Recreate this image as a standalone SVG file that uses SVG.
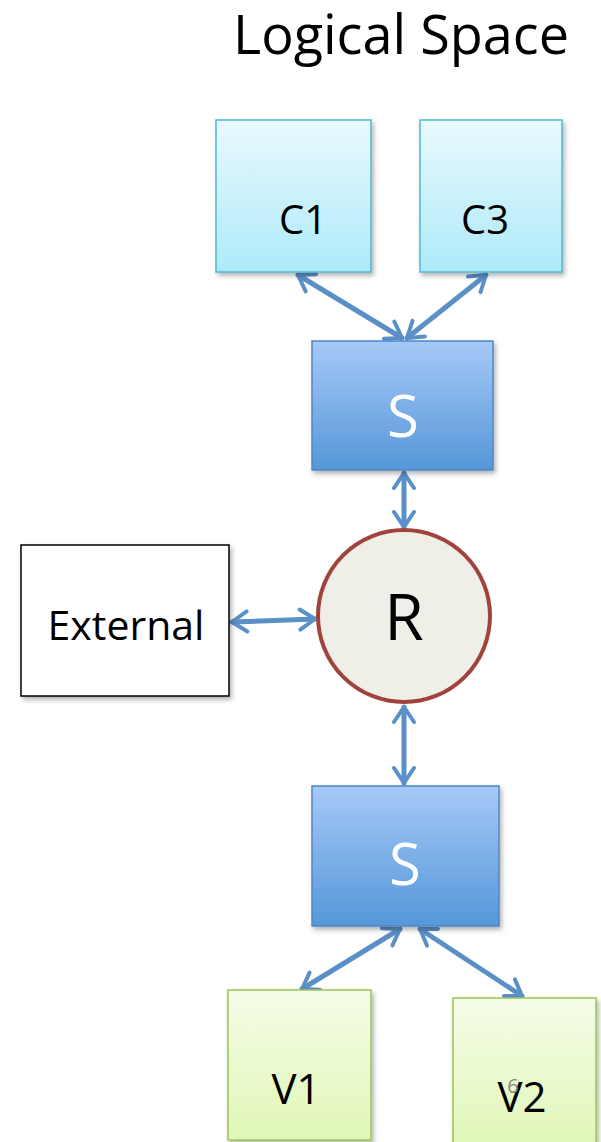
<svg xmlns="http://www.w3.org/2000/svg" width="601" height="1142" viewBox="0 0 601 1142">
<style>
text{font-family:"Open Sans","Liberation Sans",sans-serif;text-anchor:middle;}
.lbl{font-size:40px;fill:#000;}
.conn{stroke:#5b8fc8;stroke-width:5;fill:none;stroke-linecap:round;}
</style>
<defs>
<linearGradient id="gc" x1="0" y1="0" x2="0" y2="1"><stop offset="0" stop-color="#e8f9fd"/><stop offset="1" stop-color="#aeeafa"/></linearGradient>
<linearGradient id="gs" x1="0" y1="0" x2="0" y2="1"><stop offset="0" stop-color="#a6c9f7"/><stop offset="1" stop-color="#5597d8"/></linearGradient>
<linearGradient id="gv" x1="0" y1="0" x2="0" y2="1"><stop offset="0" stop-color="#f5fce8"/><stop offset="1" stop-color="#e0f7b6"/></linearGradient>
<filter id="sh" x="-10%" y="-10%" width="130%" height="130%"><feDropShadow dx="2" dy="3" stdDeviation="2.5" flood-color="#000" flood-opacity="0.3"/></filter>
<marker id="ah" viewBox="0 0 20 20" refX="16" refY="10" markerWidth="5" markerHeight="5" markerUnits="strokeWidth" orient="auto-start-reverse"><path d="M4,2 L16,10 L4,18" fill="none" stroke="#5b8fc8" stroke-width="3.2" stroke-linecap="round" stroke-linejoin="round"/></marker>
</defs>
<text x="401" y="54" style="font-size:54px" fill="#000">Logical Space</text>
<g id="connectors">
<line class="conn" x1="298" y1="275" x2="402" y2="338" marker-start="url(#ah)" marker-end="url(#ah)"/>
<line class="conn" x1="486" y1="275" x2="407" y2="338" marker-start="url(#ah)" marker-end="url(#ah)"/>
<line class="conn" x1="404" y1="473" x2="404" y2="527" marker-start="url(#ah)" marker-end="url(#ah)"/>
<line class="conn" x1="232" y1="622" x2="315" y2="619" marker-start="url(#ah)" marker-end="url(#ah)"/>
<line class="conn" x1="404" y1="707" x2="404" y2="783" marker-start="url(#ah)" marker-end="url(#ah)"/>
<line class="conn" x1="400" y1="929" x2="302" y2="989" marker-start="url(#ah)" marker-end="url(#ah)"/>
<line class="conn" x1="420" y1="929" x2="522" y2="996" marker-start="url(#ah)" marker-end="url(#ah)"/>
</g>
<g id="C1"><rect x="216" y="120" width="155" height="152" fill="url(#gc)" stroke="#4fb9d0" stroke-width="1.5" filter="url(#sh)"/><text class="lbl" x="303" y="234">C1</text></g>
<g id="C3"><rect x="420" y="120" width="142" height="152" fill="url(#gc)" stroke="#4fb9d0" stroke-width="1.5" filter="url(#sh)"/><text class="lbl" x="485" y="234">C3</text></g>
<g id="S1"><rect x="312" y="341" width="181" height="129" fill="url(#gs)" stroke="#4f87c8" stroke-width="1.5" filter="url(#sh)"/><text x="403" y="437" style="font-size:58px" fill="#fff">S</text></g>
<g id="R"><circle cx="404" cy="616" r="86" fill="#efeee7" stroke="#a0433c" stroke-width="4"/><text x="404" y="640" style="font-size:64px" fill="#000">R</text></g>
<g id="External"><rect x="21" y="545" width="208" height="151" fill="#fff" stroke="#000" stroke-width="1.5" filter="url(#sh)"/><text x="126" y="640" style="font-size:41px" fill="#000">External</text></g>
<g id="S2"><rect x="312" y="786" width="187" height="140" fill="url(#gs)" stroke="#4f87c8" stroke-width="1.5" filter="url(#sh)"/><text x="405" y="885" style="font-size:58px" fill="#fff">S</text></g>
<g id="V1"><rect x="228" y="990" width="143" height="150" fill="url(#gv)" stroke="#9cc35a" stroke-width="1.5" filter="url(#sh)"/><text x="296" y="1104" style="font-size:42px" fill="#000">V1</text></g>
<g id="V2"><rect x="453" y="998" width="143" height="150" fill="url(#gv)" stroke="#9cc35a" stroke-width="1.5" filter="url(#sh)"/><text x="522" y="1112" style="font-size:42px" fill="#000">V2</text></g>
<text x="513" y="1093" style="font-size:20px" fill="#8a8a8a">6</text>
</svg>
